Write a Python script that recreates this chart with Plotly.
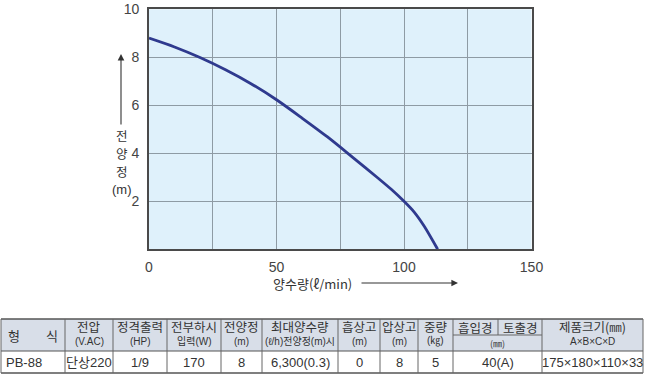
import plotly.graph_objects as go

# ---------------- data ----------------
flow = [0, 10, 20, 30, 40, 50, 60, 70, 80, 90, 95, 100, 104, 108, 113.2]
head = [8.8, 8.43, 7.99, 7.48, 6.9, 6.23, 5.47, 4.68, 3.82, 2.95, 2.5, 2.0, 1.55, 0.95, 0.0]

x_tickvals = [0, 25, 50, 75, 100, 125, 150]
x_ticktext = ["0", "", "50", "", "100", "", "150"]
y_tickvals = [0, 2, 4, 6, 8, 10]
y_ticktext = ["", "2", "4", "6", "8", "10"]

x_title = "양수량(ℓ/min)"
y_title_chars = ["전", "양", "정", "(m)"]

hdr_line1 = ["형　　식", "전압", "정격출력", "전부하시", "전양정", "최대양수량",
             "흡상고", "압상고", "중량", "흡입경", "토출경", "제품크기(㎜)"]
hdr_line2 = ["", "(V.AC)", "(HP)", "입력(W)", "(m)", "(ℓ/h)전양정(m)시",
             "(m)", "(m)", "(㎏)", "(㎜)", None, "A×B×C×D"]
row_vals = ["PB-88", "단상220", "1/9", "170", "8", "6,300(0.3)",
            "0", "8", "5", "40(A)", None, "175×180×110×33"]

# ---------------- layout helpers ----------------
W, H = 645, 376
def px(x): return x / W
def py(y): return 1 - y / H

col_edges = [1, 65, 113, 167, 221, 262, 338, 380, 418, 453, 498, 542, 643]
t_top, t_mid, t_hdr, t_bot = 319, 335, 351, 373

FONT = "Liberation Sans Narrow, Liberation Sans, Noto Sans CJK KR, sans-serif"
KFONT = "Noto Sans CJK KR, Liberation Sans, sans-serif"
TXT = "#333333"

fig = go.Figure()
fig.add_trace(go.Scatter(x=flow, y=head, mode="lines",
                         line=dict(color="#2f3a8e", width=2.8, shape="spline", smoothing=0.8),
                         hoverinfo="skip", showlegend=False))

shapes = []
annos = []

# table header background
shapes.append(dict(type="rect", xref="paper", yref="paper",
                   x0=px(col_edges[0]), x1=px(col_edges[-1]), y0=py(t_hdr), y1=py(t_top),
                   fillcolor="#d8dee8", line=dict(width=0), layer="below"))
# horizontal lines
for yy, w in [(t_top, 1.6), (t_hdr, 1.2), (t_bot, 1.6)]:
    shapes.append(dict(type="line", xref="paper", yref="paper",
                       x0=px(col_edges[0]), x1=px(col_edges[-1]), y0=py(yy), y1=py(yy),
                       line=dict(color="#555555", width=w)))
shapes.append(dict(type="line", xref="paper", yref="paper",
                   x0=px(col_edges[9]), x1=px(col_edges[11]), y0=py(t_mid), y1=py(t_mid),
                   line=dict(color="#666666", width=1)))
# vertical lines
for i, e in enumerate(col_edges):
    y_end = t_mid if i == 10 else t_bot
    shapes.append(dict(type="line", xref="paper", yref="paper",
                       x0=px(e), x1=px(e), y0=py(t_top), y1=py(y_end),
                       line=dict(color="#666666", width=1)))

def center(i, j=None):
    j = i if j is None else j
    return (col_edges[i] + col_edges[j + 1]) / 2

# header texts
for i in range(12):
    if i == 0:
        annos.append(dict(x=px(center(0)), y=py((t_top + t_hdr) / 2), text=hdr_line1[0],
                          font=dict(family=KFONT, size=13, color=TXT)))
        continue
    if i in (9, 10):
        annos.append(dict(x=px(center(i)), y=py((t_top + t_mid) / 2 + 0.5), text=hdr_line1[i],
                          font=dict(family=KFONT, size=12.5, color=TXT)))
        if i == 9:
            annos.append(dict(x=px(center(9, 10)), y=py((t_mid + t_hdr) / 2 + 0.5), text=hdr_line2[9],
                              font=dict(family=KFONT, size=9, color=TXT)))
        continue
    annos.append(dict(x=px(center(i)), y=py(326), text=hdr_line1[i],
                      font=dict(family=KFONT, size=12.5, color=TXT)))
    annos.append(dict(x=px(center(i)), y=py(341), text=hdr_line2[i],
                      font=dict(family=FONT, size=10, color=TXT)))

# data row
for i in range(12):
    v = row_vals[i]
    if v is None:
        continue
    ymid = py((t_hdr + t_bot) / 2)
    if i == 0:
        annos.append(dict(x=px(col_edges[0] + 3), y=ymid, text=v, xanchor="left",
                          font=dict(family=FONT, size=13, color=TXT)))
    elif i == 9:
        annos.append(dict(x=px(center(9, 10)), y=ymid, text=v,
                          font=dict(family=FONT, size=13, color=TXT)))
    else:
        annos.append(dict(x=px(center(i)), y=ymid, text=v,
                          font=dict(family=FONT, size=13, color=TXT)))

for a in annos:
    a.setdefault("xref", "paper")
    a.setdefault("yref", "paper")
    a.setdefault("showarrow", False)
    a.setdefault("xanchor", "center")
    a.setdefault("yanchor", "middle")

# axis titles
annos.append(dict(xref="paper", yref="paper", x=px(312), y=py(283), text=x_title, showarrow=False,
                  font=dict(family=KFONT, size=13, color=TXT), xanchor="center", yanchor="middle"))
annos.append(dict(xref="paper", yref="paper", x=px(458), y=py(283), ax=-98, ay=0, text="",
                  showarrow=True, arrowhead=2, arrowsize=1.2, arrowwidth=1.1, arrowcolor="#333333"))
for k, (ch, yy) in enumerate(zip(y_title_chars, [135, 153, 171, 189])):
    annos.append(dict(xref="paper", yref="paper", x=px(122), y=py(yy), text=ch, showarrow=False,
                      font=dict(family=KFONT if k < 3 else "Liberation Sans, sans-serif",
                                size=12.5 if k < 3 else 13, color=TXT),
                      xanchor="center", yanchor="middle"))
annos.append(dict(xref="paper", yref="paper", x=px(121), y=py(54), ax=0, ay=72, text="",
                  showarrow=True, arrowhead=2, arrowsize=1.2, arrowwidth=1.1, arrowcolor="#333333"))

axis_common = dict(showgrid=True, gridcolor="#8e9ba4", gridwidth=1, zeroline=False,
                   showline=True, linecolor="#4a4a4a", linewidth=1.6, mirror=True, automargin=False,
                   ticks="", tickfont=dict(family="Liberation Sans, sans-serif", size=14, color="#444444"))

fig.update_layout(
    width=W, height=H, autosize=False,
    margin=dict(l=0, r=0, t=0, b=0, pad=0),
    paper_bgcolor="white", plot_bgcolor="#dff1fb",
    xaxis=dict(domain=[px(149), px(531.5)], range=[0, 150], tickvals=x_tickvals, ticktext=x_ticktext,
               ticklabelstandoff=4, **axis_common),
    yaxis=dict(domain=[py(249.3), py(9.3)], range=[0, 10], tickvals=y_tickvals, ticktext=y_ticktext,
               ticklabelstandoff=5, **axis_common),
    shapes=shapes, annotations=annos, showlegend=False,
)

fig.write_html("out.html",
               config={"responsive": False, "displayModeBar": False},
               post_script="document.body.style.margin='0';document.body.style.overflow='hidden';")
